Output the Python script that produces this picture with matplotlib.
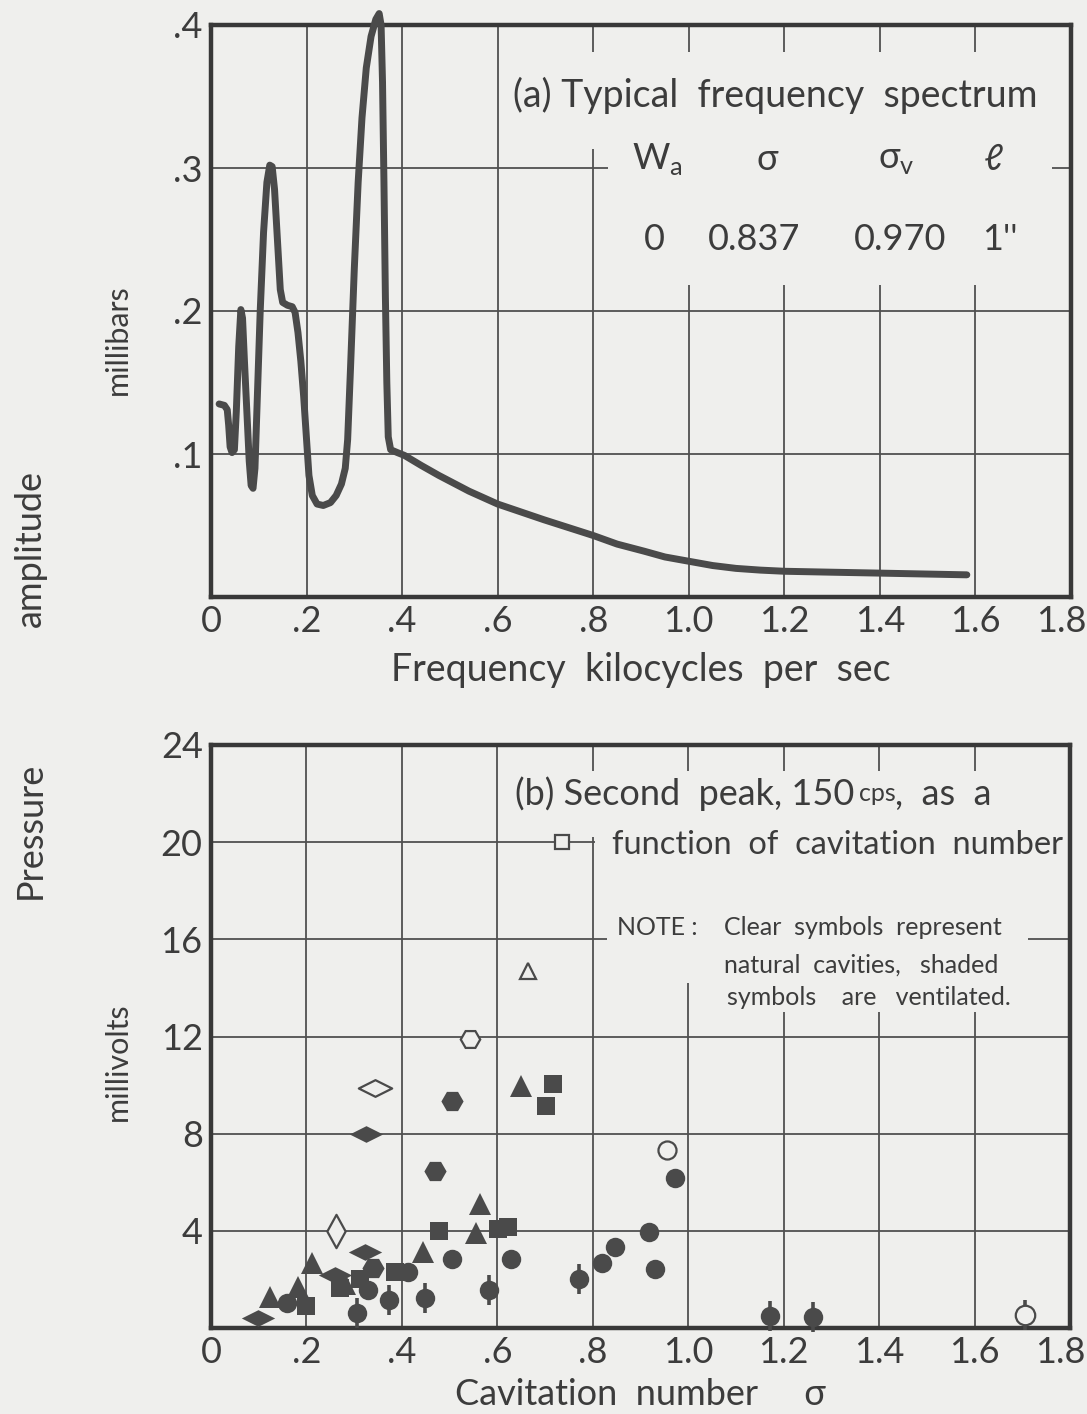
import matplotlib
matplotlib.use("Agg")
import matplotlib.pyplot as plt
from matplotlib.patches import Rectangle
from matplotlib.path import Path
from matplotlib.transforms import ScaledTranslation

plt.rcParams['font.family'] = ['Lato', 'DejaVu Sans']
plt.rcParams['mathtext.fontset'] = 'dejavusans'

BG = '#efefed'
INK = '#3c3c3c'
LINE = '#4a4a4a'

# (a) frequency spectrum, kc/s vs millibars
freq = [0.017, 0.028, 0.034, 0.037, 0.040, 0.044, 0.049, 0.053, 0.058, 0.0625,
        0.066, 0.070, 0.075, 0.080, 0.084, 0.088, 0.092, 0.097, 0.103, 0.110,
        0.117, 0.123, 0.128, 0.133, 0.139, 0.145, 0.150, 0.160, 0.170, 0.176,
        0.182, 0.188, 0.194, 0.200, 0.205, 0.212, 0.222, 0.235, 0.250, 0.262,
        0.273, 0.281, 0.286, 0.292, 0.300, 0.308, 0.316, 0.325, 0.335, 0.345,
        0.352, 0.356, 0.359, 0.362, 0.365, 0.368, 0.371, 0.376, 0.390, 0.405,
        0.440, 0.477, 0.540, 0.600, 0.697, 0.800, 0.850, 0.907, 0.950, 1.000,
        1.050, 1.099, 1.150, 1.200, 1.290, 1.400, 1.582]
amp = [0.135, 0.134, 0.131, 0.120, 0.105, 0.101, 0.103, 0.130, 0.175, 0.201,
       0.195, 0.165, 0.130, 0.095, 0.078, 0.076, 0.090, 0.140, 0.200, 0.255,
       0.290, 0.302, 0.301, 0.285, 0.250, 0.215, 0.206, 0.204, 0.203, 0.199,
       0.185, 0.165, 0.140, 0.110, 0.085, 0.071, 0.065, 0.064, 0.066, 0.071,
       0.079, 0.090, 0.110, 0.160, 0.230, 0.290, 0.335, 0.370, 0.392, 0.404,
       0.408, 0.400, 0.360, 0.290, 0.210, 0.150, 0.112, 0.103, 0.101, 0.099,
       0.092, 0.085, 0.074, 0.065, 0.054, 0.043, 0.037, 0.032, 0.028, 0.025,
       0.022, 0.0200, 0.0188, 0.0180, 0.0174, 0.0167, 0.0155]

# (b) second peak amplitude (millivolts) vs cavitation number
filled_circle_s = [0.329, 0.413, 0.504, 0.628, 0.819, 0.846, 0.917, 0.931, 0.972, 0.160]
filled_circle_v = [1.55, 2.30, 2.84, 2.84, 2.68, 3.34, 3.95, 2.44, 6.18, 1.03]
flag_circle_s = [0.306, 0.373, 0.448, 0.582, 0.771, 1.172, 1.261]
flag_circle_v = [0.62, 1.15, 1.25, 1.56, 2.02, 0.50, 0.45]
filled_square_s = [0.200, 0.270, 0.312, 0.385, 0.478, 0.601, 0.622, 0.701, 0.716]
filled_square_v = [0.92, 1.65, 2.00, 2.30, 4.00, 4.08, 4.16, 9.14, 10.05]
filled_tri_s = [0.124, 0.182, 0.212, 0.280, 0.444, 0.555, 0.563, 0.649]
filled_tri_v = [1.28, 1.70, 2.68, 1.80, 3.13, 3.90, 5.10, 9.96]
filled_hex_s = [0.340, 0.469, 0.504]
filled_hex_v = [2.47, 6.47, 9.35]
filled_dia_s = [0.098, 0.260, 0.322, 0.325]
filled_dia_v = [0.42, 2.20, 3.13, 8.00]

open_square = (0.735, 20.0)
open_tri = (0.665, 14.7)
open_hex = (0.542, 11.9)
open_dia_wide = (0.344, 9.9)
open_dia_tall = (0.262, 3.98)
open_circle = (0.955, 7.33)
open_flag_circle = (1.705, 0.55)

x_ticks = [0, 0.2, 0.4, 0.6, 0.8, 1.0, 1.2, 1.4, 1.6, 1.8]
x_labels = ['0', '.2', '.4', '.6', '.8', '1.0', '1.2', '1.4', '1.6', '1.8']
a_yticks = [0.1, 0.2, 0.3, 0.4]
a_ylabels = ['.1', '.2', '.3', '.4']
b_yticks = [4, 8, 12, 16, 20, 24]

wide_dia = Path([(-1, 0), (0, 0.5), (1, 0), (0, -0.5), (-1, 0)],
                [Path.MOVETO, Path.LINETO, Path.LINETO, Path.LINETO, Path.CLOSEPOLY])
tall_dia = Path([(0, -1), (0.55, 0), (0, 1), (-0.55, 0), (0, -1)],
                [Path.MOVETO, Path.LINETO, Path.LINETO, Path.LINETO, Path.CLOSEPOLY])

fig = plt.figure(figsize=(10.87, 14.14), dpi=100, facecolor=BG)
ax1 = fig.add_axes([211 / 1087, 1 - 597 / 1414, 860 / 1087, 572 / 1414])
ax2 = fig.add_axes([211 / 1087, 1 - 1328 / 1414, 859 / 1087, 583 / 1414])


def style(ax, yticks, ylabels):
    ax.set_facecolor(BG)
    ax.set_xlim(0, 1.8)
    ax.set_xticks(x_ticks)
    ax.set_xticklabels(x_labels)
    ax.set_yticks(yticks)
    ax.set_yticklabels(ylabels)
    ax.set_axisbelow(True)
    ax.grid(True, color='#505050', lw=1.3)
    ax.tick_params(length=0, labelsize=26, labelcolor=INK, pad=6)
    last = ax.get_xticklabels()[-1]
    last.set_transform(last.get_transform() +
                       ScaledTranslation(-7 / 72, 0, fig.dpi_scale_trans))
    for s in ax.spines.values():
        s.set_linewidth(3.2)
        s.set_color('#383838')


def cover(ax, x0, x1, y0, y1):
    ax.add_patch(Rectangle((x0, y0), x1 - x0, y1 - y0, facecolor=BG,
                           edgecolor='none', zorder=1))


# ---- (a)
style(ax1, a_yticks, a_ylabels)
ax1.set_ylim(0, 0.4)
cover(ax1, 0.61, 1.8, 0.313, 0.381)
cover(ax1, 0.83, 1.76, 0.218, 0.313)
ax1.plot(freq, amp, color=LINE, lw=5, solid_capstyle='round',
         solid_joinstyle='round', clip_on=False, zorder=3)
ax1.text(0.633, 0.351, '(a) Typical  frequency  spectrum', fontsize=27,
         color=INK, va='center', ha='left')
hdr = [(0.935, r'W$_\mathregular{a}$'), (1.165, 'σ'), (1.435, r'σ$_\mathregular{v}$'), (1.638, 'ℓ')]
for x, t in hdr:
    ax1.text(x, 0.306, t, fontsize=26, color=INK, ha='center', va='center')
row = [(0.929, '0'), (1.137, '0.837'), (1.442, '0.970'), (1.650, "1''")]
for x, t in row:
    ax1.text(x, 0.250, t, fontsize=26, color=INK, ha='center', va='center')
ax1.set_xlabel('Frequency  kilocycles  per  sec', fontsize=27, color=INK, labelpad=10)

# ---- (b)
style(ax2, b_yticks, [str(v) for v in b_yticks])
ax2.set_ylim(0, 24)
cover(ax2, 0.62, 1.8, 20.2, 22.95)
cover(ax2, 0.805, 1.8, 17.6, 20.2)
cover(ax2, 0.83, 1.713, 14.2, 17.6)
cover(ax2, 1.02, 1.713, 13.0, 14.2)

mk = dict(linestyle='none', color=LINE, clip_on=False, zorder=4)
ax2.plot(flag_circle_s, flag_circle_v, marker='|', ms=22, mew=2.6, **mk)
ax2.plot(flag_circle_s, flag_circle_v, marker='o', ms=14, mew=0, **mk)
ax2.plot(filled_circle_s, filled_circle_v, marker='o', ms=14, mew=0, **mk)
ax2.plot(filled_square_s, filled_square_v, marker='s', ms=13, mew=0, **mk)
ax2.plot(filled_tri_s, filled_tri_v, marker='^', ms=16, mew=0, **mk)
ax2.plot(filled_hex_s, filled_hex_v, marker='H', ms=16, mew=0, **mk)
ax2.plot(filled_dia_s, filled_dia_v, marker=wide_dia, ms=24, mew=0, **mk)

op = dict(linestyle='none', color=LINE, mfc=BG, mew=1.6, clip_on=False, zorder=4)
ax2.plot(*open_square, marker='s', ms=10, **op)
ax2.plot(*open_tri, marker='^', ms=12, **op)
ax2.plot(*open_hex, marker='H', ms=14, **op)
ax2.plot(*open_dia_wide, marker=wide_dia, ms=24, **op)
ax2.plot(*open_dia_tall, marker=tall_dia, ms=24, **op)
ax2.plot(*open_circle, marker='o', ms=13, **op)
ax2.plot(*open_flag_circle, marker='|', ms=22, mew=2.6, linestyle='none',
         color=LINE, clip_on=False, zorder=4)
ax2.plot(*open_flag_circle, marker='o', ms=14, **op)

t1 = ax2.text(0.637, 22.0, '(b) Second  peak, 150', fontsize=26, color=INK,
              va='center', ha='left')
t2 = ax2.annotate('cps', xy=(1, 0), xycoords=t1, xytext=(3, 4),
                  textcoords='offset points', fontsize=18, color=INK,
                  va='bottom', ha='left')
ax2.annotate(',  as  a', xy=(1, 0), xycoords=t2, xytext=(0, -4),
             textcoords='offset points', fontsize=26, color=INK,
             va='bottom', ha='left')
ax2.text(0.84, 19.9, 'function  of  cavitation  number', fontsize=23.5,
         color=INK, va='center', ha='left')
ax2.text(0.85, 16.47, 'NOTE :', fontsize=18, color=INK, va='center', ha='left')
ax2.text(1.074, 16.47, 'Clear  symbols  represent', fontsize=18, color=INK,
         va='center', ha='left')
ax2.text(1.076, 14.94, 'natural  cavities,   shaded', fontsize=18, color=INK,
         va='center', ha='left')
ax2.text(1.082, 13.59, 'symbols    are   ventilated.', fontsize=18, color=INK,
         va='center', ha='left')
ax2.set_xlabel('Cavitation  number     σ', fontsize=26, color=INK, labelpad=6)

# shared / per-panel y labels
fig.text(30 / 1087, 1 - 548 / 1414, 'amplitude', rotation=90, fontsize=26,
         color=INK, ha='center', va='center')
fig.text(30 / 1087, 1 - 830 / 1414, 'Pressure', rotation=90, fontsize=26,
         color=INK, ha='center', va='center')
fig.text(118 / 1087, 1 - 340 / 1414, 'millibars', rotation=90, fontsize=22,
         color=INK, ha='center', va='center')
fig.text(118 / 1087, 1 - 1062 / 1414, 'millivolts', rotation=90, fontsize=22,
         color=INK, ha='center', va='center')

fig.savefig('out.png', dpi=100, facecolor=BG)
